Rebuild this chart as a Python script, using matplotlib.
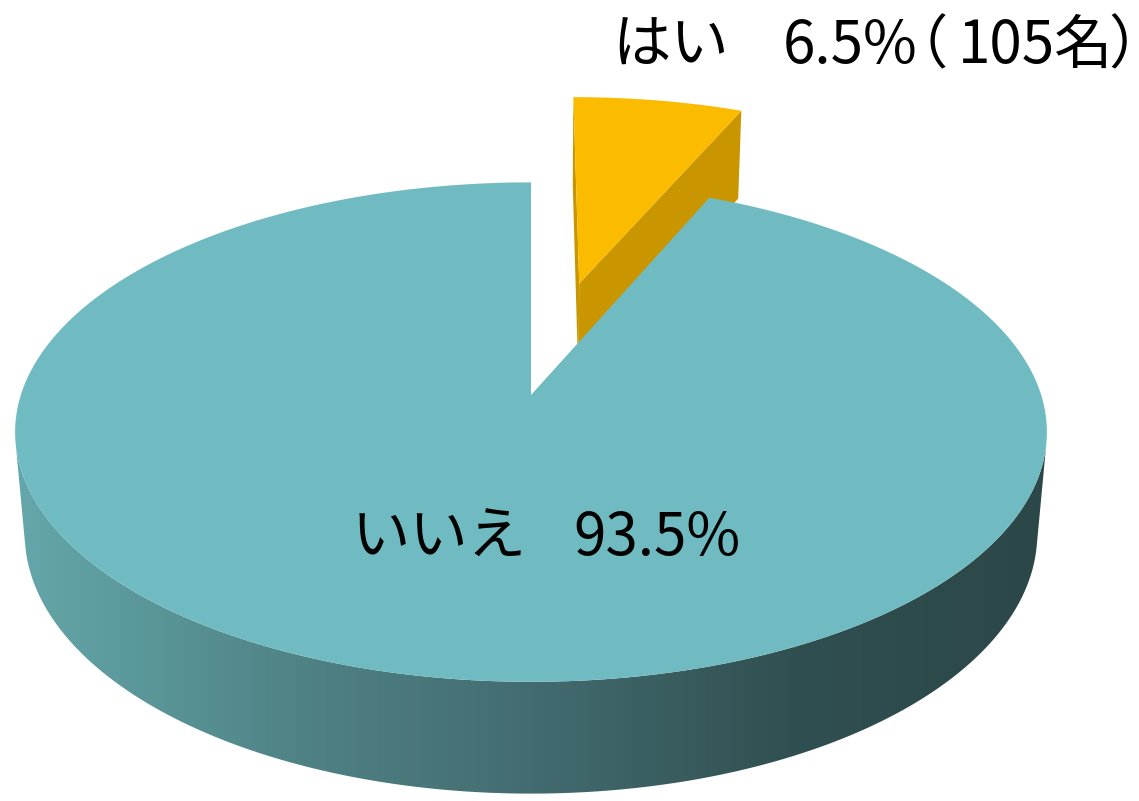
import numpy as np
import matplotlib
matplotlib.use("Agg")
import matplotlib.pyplot as plt
from matplotlib.patches import Polygon
from matplotlib.colors import LinearSegmentedColormap

# answers and their shares (%)
labels = ["はい", "いいえ"]
shares = [6.5, 93.5]
counts = [105]
explode = [0.5, 0.0]

top_colors = ["#fbbc00", "#70bbc1"]
cut_colors = ["#c99600", "#4f8285"]
side_stops = ["#64a7aa", "#4f8285", "#436c70", "#304f50", "#2c4748"]

# camera for the 3-D look (pixel space)
CX, CY = 531, 395
F = 3015.0
D = 5.91
ALPHA = np.radians(28.6)
H = 0.229
sa, ca = np.sin(ALPHA), np.cos(ALPHA)
CAM = np.array([0.0, D * sa, -D * ca])


def project(X, Y, Z):
    X, Y, Z = np.broadcast_arrays(np.asarray(X, float), np.asarray(Y, float),
                                  np.asarray(Z, float))
    depth = D - Y * sa + Z * ca
    return CX + F * X / depth, CY - F * (Y * ca + Z * sa) / depth


def faces_camera(normal, point):
    return np.dot(normal, CAM - point) > 1e-9


fig = plt.figure(figsize=(11.39, 8.01), dpi=100)
ax = fig.add_axes([0, 0, 1, 1])
ax.set_xlim(0, 1139)
ax.set_ylim(801, 0)
ax.axis("off")

side_cmap = LinearSegmentedColormap.from_list(
    "side", list(zip([0.0, 0.28, 0.5, 0.76, 1.0], side_stops)))

bounds = np.concatenate([[0], np.cumsum(shares)]) / 100 * 2 * np.pi
for i in range(len(shares)):
    t0, t1 = bounds[i], bounds[i + 1]
    mid = (t0 + t1) / 2
    ox, oz = explode[i] * np.sin(mid), explode[i] * np.cos(mid)
    t = np.linspace(t0, t1, 1500)
    rx, rz = ox + np.sin(t), oz + np.cos(t)

    # straight cut faces
    for tc, n in [(t0, (-np.cos(t0), 0, np.sin(t0))),
                  (t1, (np.cos(t1), 0, -np.sin(t1)))]:
        if faces_camera(np.array(n), np.array([ox, 0, oz])):
            ex, ez = ox + np.sin(tc), oz + np.cos(tc)
            px, py = project([ox, ex, ex, ox], [0, 0, -H, -H], [oz, ez, ez, oz])
            ax.add_patch(Polygon(np.column_stack([px, py]), closed=True,
                                 facecolor=cut_colors[i], edgecolor="none"))

    # curved outer wall, only the part turned to the viewer
    vis = np.array([faces_camera(np.array([np.sin(a), 0, np.cos(a)]),
                                 np.array([x, 0, z]))
                    for a, x, z in zip(t, rx, rz)])
    if vis.any():
        idx = np.where(vis)[0]
        sx, sz = rx[idx], rz[idx]
        tx, ty = project(sx, 0, sz)
        bx, by = project(sx, -H, sz)
        pts = np.column_stack([np.concatenate([tx, bx[::-1]]),
                               np.concatenate([ty, by[::-1]])])
        wall = Polygon(pts, closed=True, facecolor="none", edgecolor="none")
        ax.add_patch(wall)
        grad = np.linspace(0, 1, 512)[None, :]
        im = ax.imshow(grad, cmap=side_cmap, aspect="auto",
                       extent=[15, 1048, by.max() + 2, ty.min() - 2],
                       interpolation="bilinear")
        im.set_clip_path(wall)

    # top face
    px, py = project(np.concatenate([[ox], rx]), 0, np.concatenate([[oz], rz]))
    ax.add_patch(Polygon(np.column_stack([px, py]), closed=True,
                         facecolor=top_colors[i], edgecolor="none"))

font = ["Noto Sans CJK JP", "DejaVu Sans"]
kw = dict(fontsize=42, family=font, va="baseline", color="black")

# "はい" label above the pulled-out slice
ax.text(612, 63, labels[0], ha="left", **kw)
ax.text(783, 63, f"{shares[0]}%", ha="left", **kw)
ax.text(889, 63, "（", ha="left", **kw)
ax.text(958, 63, f"{counts[0]}名", ha="left", **kw)
ax.text(1108, 63, "）", ha="left", **kw)

# "いいえ" label on the big slice
ax.text(352, 555, labels[1], ha="left", **kw)
ax.text(573, 555, f"{shares[1]}%", ha="left", **kw)

ax.set_xlim(0, 1139)
ax.set_ylim(801, 0)
fig.savefig("out.png", dpi=100)
